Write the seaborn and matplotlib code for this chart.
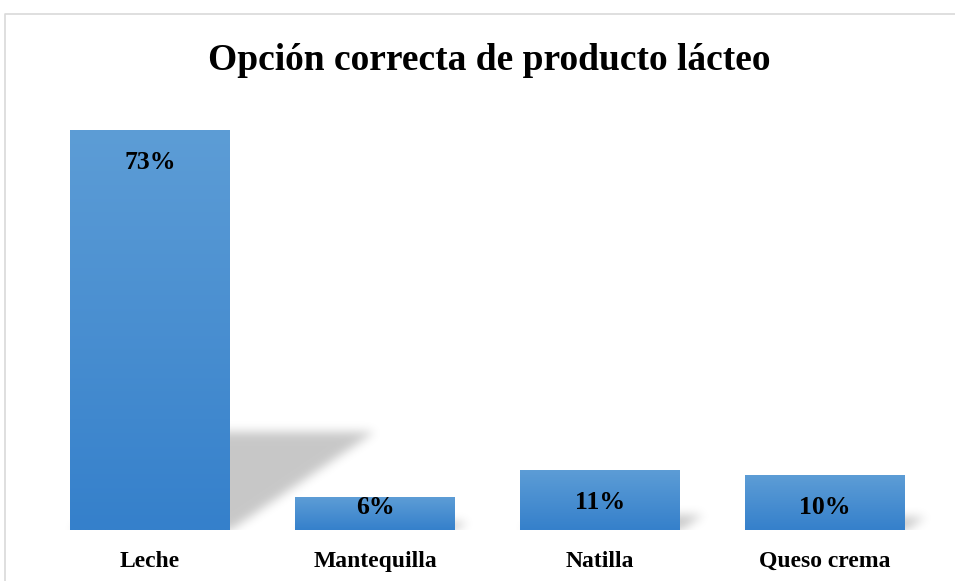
import numpy as np
import matplotlib
matplotlib.use("Agg")
import matplotlib.pyplot as plt
import seaborn as sns
from matplotlib.colors import LinearSegmentedColormap
from matplotlib.lines import Line2D

categories = ["Leche", "Mantequilla", "Natilla", "Queso crema"]
values = [73, 6, 11, 10]
labels = ["73%", "6%", "11%", "10%"]
title = "Opción correcta de producto lácteo"

sns.set_theme(style="white")
plt.rcParams["font.family"] = ["Liberation Serif", "DejaVu Serif"]

W_PX, H_PX = 955, 581
fig = plt.figure(figsize=(W_PX / 100, H_PX / 100), dpi=100)
fig.patch.set_facecolor("white")

ax_left, ax_right = 37.5, 937.5
ax_bottom, ax_top = 530.0, 91.6
ax = fig.add_axes([ax_left / W_PX, (H_PX - ax_bottom) / H_PX,
                   (ax_right - ax_left) / W_PX, (ax_bottom - ax_top) / H_PX])

YMAX = 80
BAR_W = 0.71
sns.barplot(x=categories, y=values, color="#4a90d4", width=BAR_W, ax=ax,
            saturation=1, zorder=2)

# axis geometry in pixels
ax_w_px = ax_right - ax_left
ax_h_px = ax_bottom - ax_top
px_per_unit_x = ax_w_px / 4.0
px_per_val = ax_h_px / YMAX

# gradient fills
cmap = LinearSegmentedColormap.from_list("bargrad", ["#3580cb", "#5d9dd6"])
grad = np.linspace(0, 1, 256).reshape(-1, 1)
for patch in ax.patches:
    x, y = patch.get_x(), patch.get_y()
    w, h = patch.get_width(), patch.get_height()
    im = ax.imshow(grad, cmap=cmap, extent=[x, x + w, y, y + h], origin="lower",
                   aspect="auto", zorder=2, interpolation="bilinear")
    im.set_clip_path(patch)
    patch.set_facecolor("none")
    patch.set_edgecolor("none")

# perspective shadows (blurred)
Wg, Hg = int(ax_w_px), int(round(ax_h_px))
XX, YY = np.meshgrid(np.arange(Wg) + 0.5, np.arange(Hg) + 0.5)
mask = np.zeros((Hg, Wg))
for i, v in enumerate(values):
    hp = v * px_per_val
    sh = 0.245 * hp
    s = 0.36 * hp
    x0 = (i - BAR_W / 2 + 0.5) * px_per_unit_x
    x1 = (i + BAR_W / 2 + 0.5) * px_per_unit_x
    shift = s * YY / sh
    m = (YY <= sh) & (XX >= x0 + shift) & (XX <= x1 + shift)
    mask[m] = 1.0

def blur(a, sigma):
    r = int(3 * sigma)
    k = np.exp(-0.5 * (np.arange(-r, r + 1) / sigma) ** 2)
    k /= k.sum()
    a = np.apply_along_axis(lambda row: np.convolve(row, k, mode="same"), 1, a)
    a = np.apply_along_axis(lambda col: np.convolve(col, k, mode="same"), 0, a)
    return a

sm = blur(mask, 5.0)
rgba = np.zeros((Hg, Wg, 4))
rgba[..., 3] = sm * 0.22
ax.imshow(rgba, extent=[-0.5, 3.5, 0, YMAX], origin="lower", aspect="auto",
          zorder=1, interpolation="bilinear")

# value labels
for i, (v, lab) in enumerate(zip(values, labels)):
    hp = v * px_per_val
    off = min(39.0, hp - 16.0)
    ax.annotate(lab, xy=(i, v), xytext=(0, -off * 0.72), textcoords="offset points",
                ha="center", va="baseline", fontsize=18.5, fontweight="bold",
                color="black", zorder=4)

ax.set_xlim(-0.5, 3.5)
ax.set_ylim(0, YMAX)
ax.set_yticks([])
ax.set_xticks(range(len(categories)))
ax.set_xticklabels(categories, fontsize=17, fontweight="bold", color="black")
for t in ax.get_xticklabels():
    t.set_va("baseline")
ax.tick_params(axis="x", length=0, pad=37 * 0.72)
ax.set_xlabel("")
ax.set_ylabel("")
for sp in ax.spines.values():
    sp.set_visible(False)
ax.set_facecolor("none")

fig.text(489 / W_PX, 1 - 70 / H_PX, title, ha="center", va="baseline",
         fontsize=27, fontweight="bold", color="black")

# chart border
fig.add_artist(Line2D([4.5 / W_PX, 4.5 / W_PX, 1.01], [-0.01, 1 - 13.5 / H_PX, 1 - 13.5 / H_PX],
                      color="#d9d9d9", lw=1.2, transform=fig.transFigure))

fig.savefig("out.png", dpi=100)
